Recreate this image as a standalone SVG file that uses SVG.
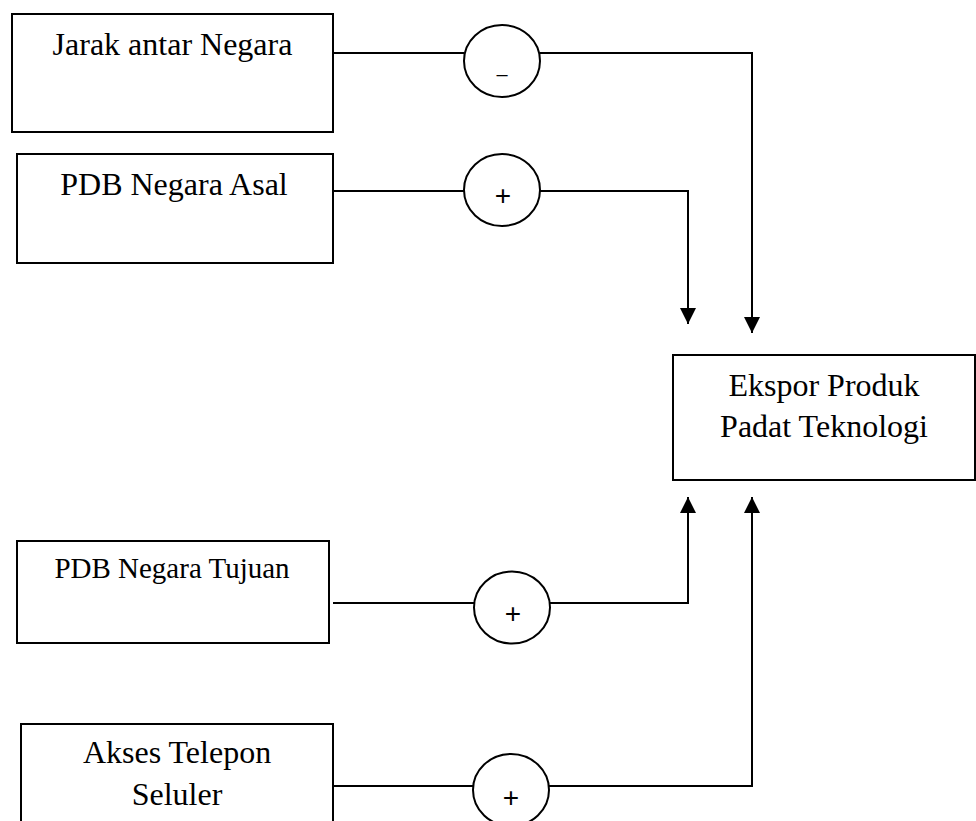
<svg xmlns="http://www.w3.org/2000/svg" width="976" height="821" viewBox="0 0 976 821">
<defs>
<style>
.box{fill:#fff;stroke:#000;stroke-width:2}
.circ{fill:#fff;stroke:#000;stroke-width:2}
.ln{fill:none;stroke:#000;stroke-width:2}
</style>
<marker id="ah" markerUnits="userSpaceOnUse" markerWidth="17" markerHeight="17" viewBox="0 0 17 17" refX="16" refY="8.5" orient="auto">
<path d="M0,0.5 L16,8.5 L0,16.5 Z" fill="#000"/>
</marker>
</defs>
<rect width="976" height="821" fill="#fff"/>
<g id="connectors">
<path class="ln" d="M333,53 H464 M540,53 H752 V333" marker-end="url(#ah)"/>
<path class="ln" d="M333,191 H464 M540,191 H688 V324" marker-end="url(#ah)"/>
<path class="ln" d="M333,603 H474 M550,603 H688 V497" marker-end="url(#ah)"/>
<path class="ln" d="M333,786 H473 M549,786 H752 V497" marker-end="url(#ah)"/>
</g>
<g font-family="Liberation Serif, Times New Roman, serif" font-size="32" fill="#000" text-anchor="middle">
<g id="jarak">
<rect class="box" x="12" y="14" width="321" height="118"/>
<text x="172.5" y="55">Jarak antar Negara</text>
</g>
<g id="pdb-asal">
<rect class="box" x="17" y="154" width="316" height="109"/>
<text x="174" y="195">PDB Negara Asal</text>
</g>
<g id="pdb-tujuan">
<rect class="box" x="17" y="541" width="312" height="102"/>
<text x="172" y="578" font-size="29">PDB Negara Tujuan</text>
</g>
<g id="akses">
<rect class="box" x="21" y="724" width="312" height="115"/>
<text x="177" y="763">Akses Telepon</text>
<text x="177" y="805">Seluler</text>
</g>
<g id="ekspor">
<rect class="box" x="673" y="355" width="302" height="125"/>
<text x="824" y="396">Ekspor Produk</text>
<text x="824" y="437">Padat Teknologi</text>
</g>
</g>
<g font-family="Liberation Sans, Arial, sans-serif" font-size="28" fill="#000" text-anchor="middle">
<g id="sign-jarak">
<ellipse class="circ" cx="502" cy="61" rx="38" ry="36"/>
<text x="502" y="81" font-size="20">–</text>
</g>
<g id="sign-asal">
<ellipse class="circ" cx="502" cy="190" rx="38" ry="36"/>
<text x="503" y="205">+</text>
</g>
<g id="sign-tujuan">
<ellipse class="circ" cx="512" cy="607.5" rx="38" ry="36"/>
<text x="513" y="623">+</text>
</g>
<g id="sign-akses">
<ellipse class="circ" cx="511" cy="790" rx="38" ry="36"/>
<text x="511" y="807">+</text>
</g>
</g>
</svg>
